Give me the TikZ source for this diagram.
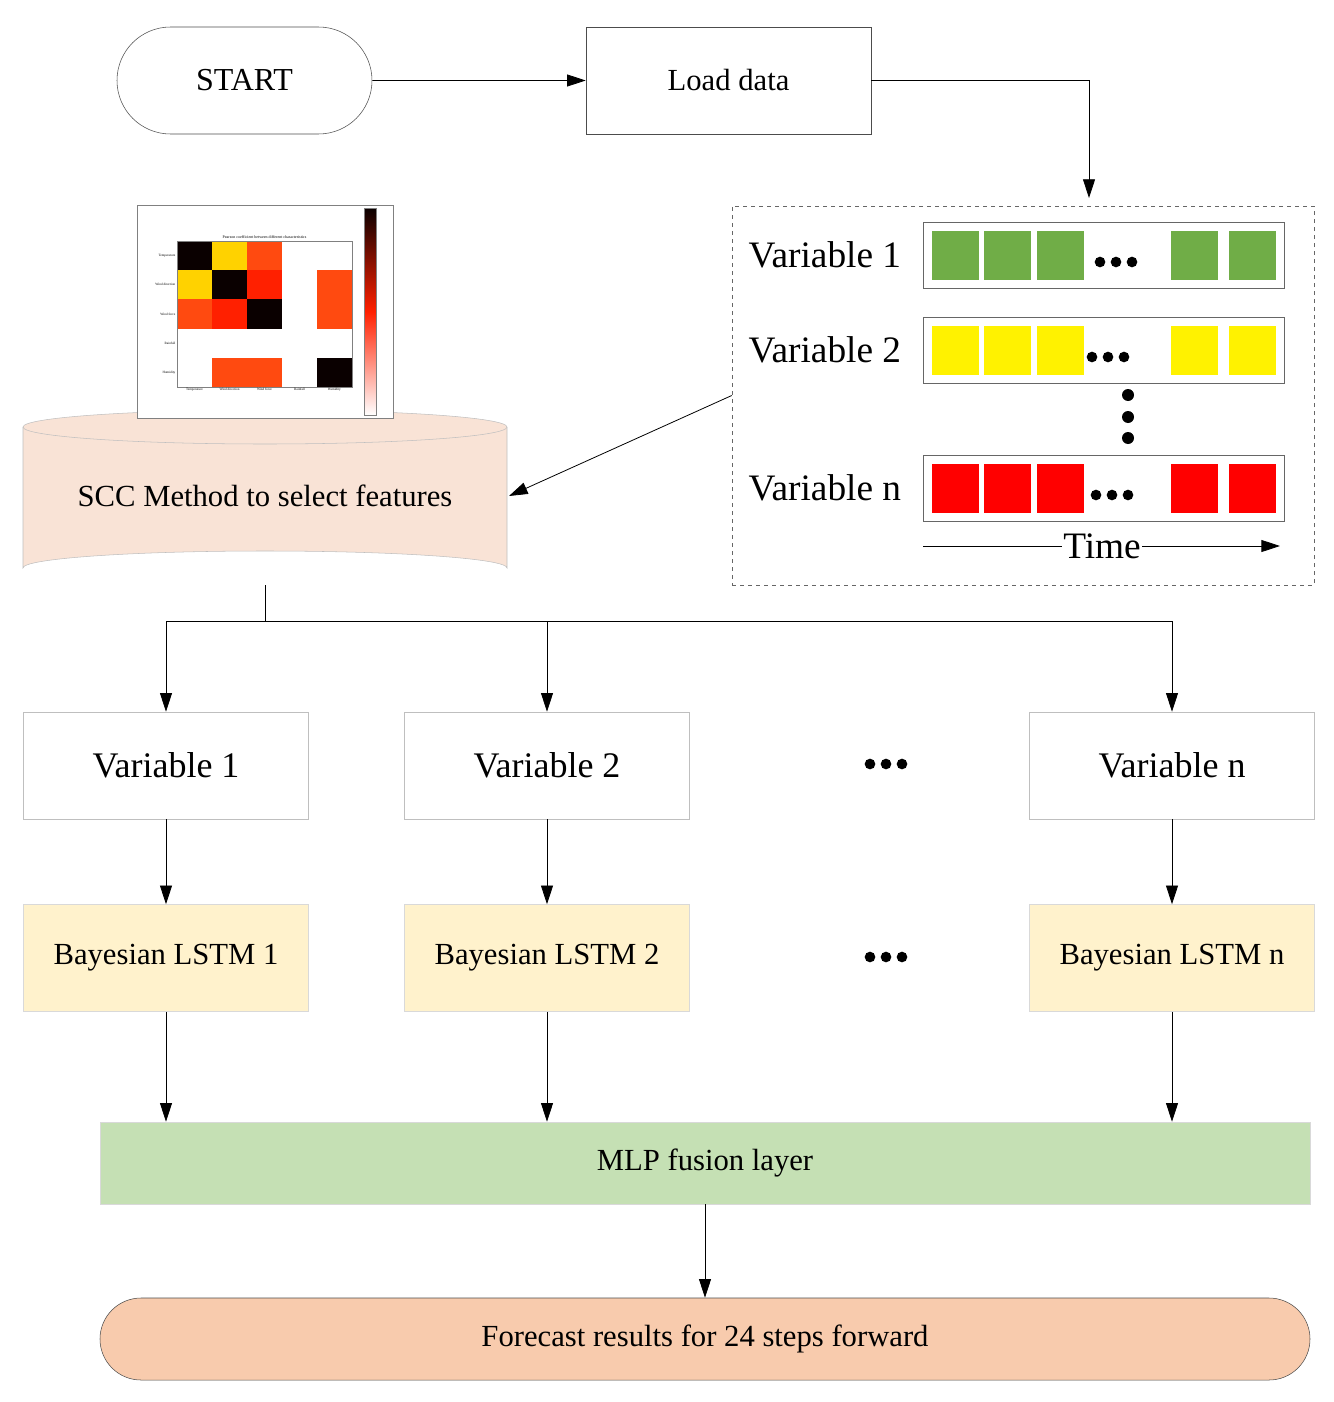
\documentclass[tikz,border=0pt]{standalone}
\usepackage{fontspec}
\setmainfont{Liberation Serif}
\usetikzlibrary{arrows.meta,shapes.misc}
\definecolor{cyl}{HTML}{F9E3D6}
\definecolor{bay}{HTML}{FFF2CC}
\definecolor{mlp}{HTML}{C5E0B4}
\definecolor{fc}{HTML}{F8CBAD}
\definecolor{gr}{HTML}{70AD47}
\definecolor{hy}{HTML}{FFD200}
\definecolor{ho}{HTML}{FF4A10}
\definecolor{hr}{HTML}{FF2000}
\definecolor{hk}{HTML}{0A0000}
\begin{document}
\begin{tikzpicture}[x=0.75pt,y=-0.75pt,
  arr/.style={-{Triangle[length=14pt,width=9pt]},line width=0.6pt},
  box/.style={draw=black!70,minimum width=213.75pt,minimum height=80.25pt,inner sep=0},
  lbox/.style={draw=black!25,minimum width=213.75pt,minimum height=80.25pt,inner sep=0,font=\fontsize{27}{30}\selectfont},
  bbox/.style={lbox,fill=bay,draw=black!15,font=\fontsize{23}{26}\selectfont},
  sq/.style={minimum width=35pt,minimum height=36.75pt,inner sep=0},
  vt/.style={font=\fontsize{28}{30}\selectfont,anchor=west},
  rowb/.style={draw=black!60,minimum width=270.75pt,minimum height=49.5pt,inner sep=0},
  dot/.style={circle,fill=black,inner sep=0,minimum size=7pt}]
\useasboundingbox (0,0) rectangle (1334,1402);
% top
\node[box,rounded rectangle,minimum width=191.25pt,font=\fontsize{24}{26}\selectfont] (start) at (244.5,80.5) {START};
\node[box,font=\fontsize{23}{26}\selectfont] (load) at (728.5,80.5) {Load data};
\draw[arr] (start) -- (load);
\coordinate (c1) at (1089,80.5);
\coordinate (c2) at (1089,198);
\draw[arr] (load.east) -- (c1) -- (c2);
% dashed box
\node[draw=black!60,dashed,minimum width=436.5pt,minimum height=284.25pt,inner sep=0] (dbox) at (1023,395.5) {};
\foreach \y/\c/\n/\dx in {255/gr/1/1116, 350/yellow/2/1108, 488/red/n/1112}{
  \node[rowb] (r\n) at (1103.5,\y) {};
  \node[vt] (v\n) at (744,\y) {Variable \n};
  \foreach \x in {955.5,1007.5,1060.5,1194.5,1252.5}{\node[sq,fill=\c] at (\x,\y) {};}
  \foreach \k in {-16,0,16}{\node[dot,minimum size=8pt] at (\dx+\k,\y+7) {};}
}
\foreach \y in {395,417,438}{\node[dot,minimum size=9pt] at (1128,\y) {};}
\node[font=\fontsize{28}{30}\selectfont,fill=white,inner sep=1pt] (time) at (1102,546) {Time};
\coordinate (t0) at (923,546);
\coordinate (t1) at (1280,546);
\draw[line width=0.6pt] (t0) -- (time.west);
\draw[arr] (time.east) -- (t1);
% cylinder
\fill[cyl] (23,427) -- (23,568) arc[start angle=180,end angle=360,x radius=242,y radius=17] -- (507,427) -- cycle;
\draw[black!25] (23,427) -- (23,568) arc[start angle=180,end angle=360,x radius=242,y radius=17] -- (507,427);
\fill[cyl] (265,427) ellipse[x radius=242,y radius=17];
\draw[black!25] (265,427) ellipse[x radius=242,y radius=17];
\node[font=\fontsize{23}{26}\selectfont] (scc) at (265,496) {SCC Method to select features};
\coordinate (cylE) at (509,496);
\coordinate (cylB) at (265,585);
\draw[arr] (dbox.west) -- (cylE);
% heatmap
\node[draw=black!50,fill=white,minimum width=192pt,minimum height=159.75pt,inner sep=0] (hm) at (265,311.5) {};
\node[font=\fontsize{3}{3}\selectfont] at (264.5,237) {Pearson coefficient between different characteristics};
\begin{scope}[shift={(177,241)}]
\def\cw{35}\def\ch{29.2}
\foreach \i/\j/\c in {0/0/hk,1/0/hy,2/0/ho,0/1/hy,1/1/hk,2/1/hr,4/1/ho,0/2/ho,1/2/hr,2/2/hk,4/2/ho,1/4/ho,2/4/ho,4/4/hk}{
  \fill[\c] (\i*\cw,\j*\ch) rectangle ++(\cw,\ch);}
\draw[black!50,line width=0.3pt] (0,0) rectangle (175,146);
\foreach \n/\t in {0/Temperature,1/Wind direction,2/Wind force,3/Rainfall,4/Humidity}{
  \node[font=\fontsize{2.5}{3}\selectfont,anchor=east,inner sep=1pt] at (0,\n*\ch+14.6) {\t};
  \node[font=\fontsize{2.5}{3}\selectfont,anchor=north,inner sep=1pt] at (\n*\cw+17.5,146) {\t};}
\end{scope}
\shade[top color=hk,bottom color=white,middle color=hr] (364,208) rectangle (376,415);
\draw[black!50,line width=0.3pt] (364,208) rectangle (376,415);
% distribution
\coordinate (s) at (265,621);
\coordinate (s1) at (166,621);\coordinate (s2) at (547,621);\coordinate (s3) at (1172,621);
\draw[line width=0.6pt] (cylB) -- (s) (s1) -- (s3);
\node[lbox] (va) at (166,765.5) {Variable 1};
\node[lbox] (vb) at (547,765.5) {Variable 2};
\node[lbox] (vc) at (1172,765.5) {Variable n};
\draw[arr] (s1) -- (va);\draw[arr] (s2) -- (vb);\draw[arr] (s3) -- (vc);
\foreach \k in {-16,0,16}{\node[dot,minimum size=8pt] at (886+\k,764) {};\node[dot,minimum size=8pt] at (886+\k,957) {};}
\node[bbox] (ba) at (166,958) {Bayesian LSTM 1};
\node[bbox] (bb) at (547,958) {Bayesian LSTM 2};
\node[bbox] (bc) at (1172,958) {Bayesian LSTM n};
\draw[arr] (va) -- (ba);\draw[arr] (vb) -- (bb);\draw[arr] (vc) -- (bc);
\node[fill=mlp,draw=black!15,minimum width=907.5pt,minimum height=61.5pt,inner sep=0,font=\fontsize{23}{26}\selectfont] (mlp) at (705,1163) {MLP fusion layer};
\draw[arr] (ba) -- (ba|-mlp.north);\draw[arr] (bb) -- (bb|-mlp.north);\draw[arr] (bc) -- (bc|-mlp.north);
\node[rounded rectangle,fill=fc,draw=black!70,minimum width=907.5pt,minimum height=61.5pt,inner sep=0,font=\fontsize{23}{26}\selectfont] (fr) at (705,1339) {Forecast results for 24 steps forward};
\draw[arr] (mlp) -- (fr);
\end{tikzpicture}
\end{document}
